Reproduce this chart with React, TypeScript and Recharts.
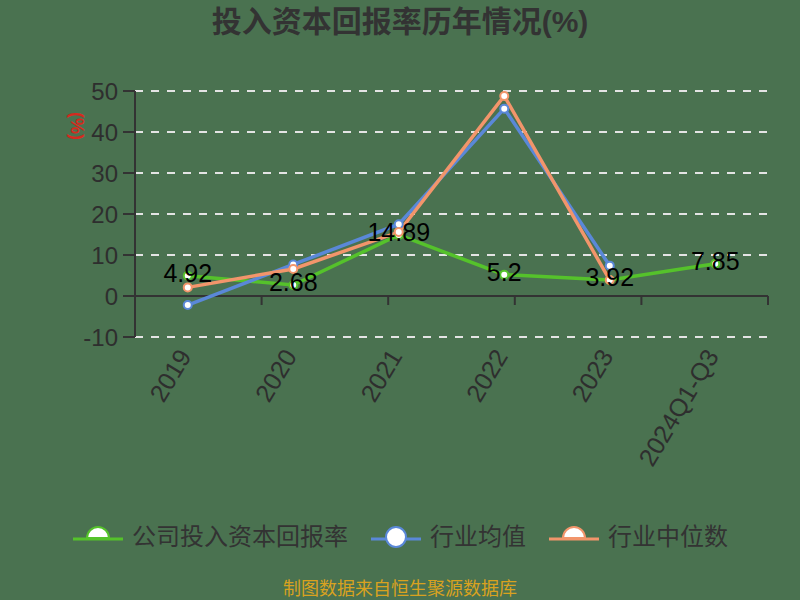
import {
  CartesianGrid,
  LabelList,
  Line,
  LineChart,
  ReferenceLine,
  XAxis,
  YAxis,
} from "recharts";

const YEARS = ["2019", "2020", "2021", "2022", "2023", "2024Q1-Q3"];
const COMPANY = [4.92, 2.68, 14.89, 5.2, 3.92, 7.85];
const INDUSTRY_AVG = [-2.2, 7.7, 17.5, 45.7, 7.4, null];
const INDUSTRY_MEDIAN = [2.1, 6.6, 15.6, 48.8, 3.9, null];
const Y_TICKS = [-10, 0, 10, 20, 30, 40, 50];
const BOUNDARIES = [0, 1, 2, 3, 4, 5, 6];

const SERIES = [
  { key: "company", name: "公司投入资本回报率", color: "#55c22b", half: true },
  { key: "avg", name: "行业均值", color: "#5a88d8", half: false },
  { key: "median", name: "行业中位数", color: "#f2956b", half: true },
];

const data = YEARS.map((year, i) => ({
  year,
  company: COMPANY[i],
  avg: INDUSTRY_AVG[i],
  median: INDUSTRY_MEDIAN[i],
}));

const FONT = '"Liberation Sans", Arial, "Noto Sans CJK SC", sans-serif';
const BG = "#4a7250";

// half of one category band, so points sit in the middle of their slot
const HALF_BAND = 52.75;

function YearTick({ x, y, payload }: any) {
  return (
    <g transform={`translate(${x - 3},${y + 12.5})`}>
      <text
        transform="rotate(-59)"
        textAnchor="end"
        dy="0.35em"
        fontSize={25}
        fill="#2e2e2e"
        fontFamily={FONT}
      >
        {payload.value}
      </text>
    </g>
  );
}

function UnitLabel({ viewBox }: any) {
  const x = viewBox.x + 2;
  const y = viewBox.y + 35;
  return (
    <text
      x={x}
      y={y}
      transform={`rotate(90 ${x} ${y})`}
      textAnchor="middle"
      dy="0.35em"
      fontSize={18}
      fontWeight="bold"
      fill="#d42a1e"
      fontFamily={FONT}
    >
      (%)
    </text>
  );
}

function LegendIcon({ color, half }: { color: string; half: boolean }) {
  return (
    <svg width={52} height={30}>
      <line x1={1} y1={19} x2={51} y2={19} stroke={color} strokeWidth={3} />
      {half ? (
        <path
          d="M 15 18 A 11 11 0 0 1 37 18 Z"
          fill="#fff"
          stroke={color}
          strokeWidth={2}
        />
      ) : (
        <circle cx={26} cy={17} r={10} fill="#fff" stroke={color} strokeWidth={2} />
      )}
    </svg>
  );
}

export default function App() {
  return (
    <div
      style={{
        position: "absolute",
        left: 0,
        top: 0,
        width: 800,
        height: 600,
        background: BG,
        fontFamily: FONT,
        overflow: "hidden",
      }}
    >
      <div
        style={{
          position: "absolute",
          top: 5,
          width: 800,
          textAlign: "center",
          fontSize: 30,
          lineHeight: "34px",
          fontWeight: "bold",
          color: "#333",
        }}
      >
        投入资本回报率历年情况(%)
      </div>
      <LineChart
        width={800}
        height={600}
        data={data}
        margin={{ top: 91, right: 32, left: 75, bottom: 113 }}
      >
        <CartesianGrid
          vertical={false}
          stroke="#e4e4e4"
          strokeDasharray="8 8"
          strokeWidth={2}
        />
        <XAxis
          dataKey="year"
          axisLine={false}
          tickLine={false}
          tickSize={0}
          interval={0}
          height={150}
          padding={{ left: HALF_BAND, right: HALF_BAND }}
          tick={<YearTick />}
        />
        <XAxis xAxisId="b" type="number" domain={[0, 6]} hide />
        <YAxis
          domain={[-10, 50]}
          ticks={Y_TICKS}
          width={60}
          tickSize={12}
          tickMargin={5}
          axisLine={{ stroke: "#333", strokeWidth: 2 }}
          tickLine={{ stroke: "#333", strokeWidth: 2 }}
          tick={{ fill: "#2e2e2e", fontSize: 24, fontFamily: FONT }}
          label={<UnitLabel />}
        />
        <ReferenceLine y={0} stroke="#333" strokeWidth={2} />
        {BOUNDARIES.map((b) => (
          <ReferenceLine
            key={b}
            xAxisId="b"
            segment={[
              { x: b, y: 0 },
              { x: b, y: -2.2 },
            ]}
            stroke="#333"
            strokeWidth={2}
          />
        ))}
        {SERIES.map((s) => (
          <Line
            key={s.key}
            type="linear"
            dataKey={s.key}
            stroke={s.color}
            strokeWidth={3.5}
            dot={{ r: 4, fill: "#fff", stroke: s.color, strokeWidth: 2 }}
            isAnimationActive={false}
          />
        ))}
        <Line
          dataKey="company"
          stroke="none"
          dot={false}
          legendType="none"
          isAnimationActive={false}
        >
          <LabelList
            dataKey="company"
            position="center"
            fill="#000"
            fontSize={25}
            dy={-3}
            fontFamily={FONT}
          />
        </Line>
      </LineChart>
      <div
        style={{
          position: "absolute",
          top: 517,
          width: 800,
          display: "flex",
          justifyContent: "center",
          alignItems: "center",
          gap: 22,
        }}
      >
        {SERIES.map((s) => (
          <div key={s.key} style={{ display: "flex", alignItems: "center", gap: 8 }}>
            <LegendIcon color={s.color} half={s.half} />
            <span style={{ fontSize: 24, color: "#333" }}>{s.name}</span>
          </div>
        ))}
      </div>
      <div
        style={{
          position: "absolute",
          top: 578,
          width: 800,
          textAlign: "center",
          fontSize: 18,
          lineHeight: "22px",
          color: "#d9a21f",
        }}
      >
        制图数据来自恒生聚源数据库
      </div>
    </div>
  );
}
